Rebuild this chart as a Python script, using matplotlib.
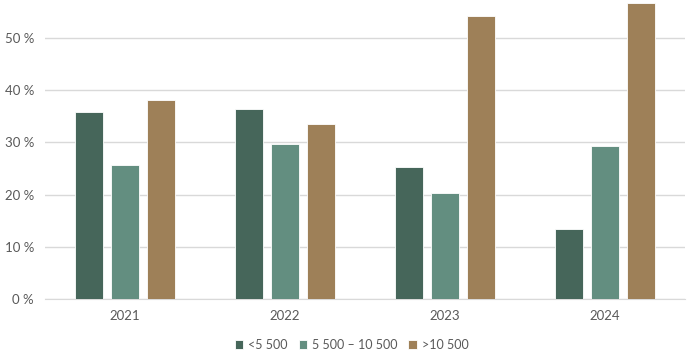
import numpy as np
import matplotlib.pyplot as plt

plt.rcParams['font.family'] = ['Lato', 'DejaVu Sans']

# Data
years = ['2021', '2022', '2023', '2024']
small = [35.8, 36.4, 25.3, 13.4]
medium = [25.7, 29.7, 20.3, 29.3]
large = [38.1, 33.5, 54.2, 56.7]
series_labels = ['<5 500', '5 500 – 10 500', '>10 500']
colors = ['#46665a', '#638e80', '#9e8058']

fig = plt.figure(figsize=(7, 3.5), dpi=100)
ax = fig.add_axes([45 / 700, 51 / 350, 640 / 700, 298 / 350])

x = np.arange(len(years))
width = 0.175
step = 0.225
for i, (vals, lab, col) in enumerate(zip([small, medium, large], series_labels, colors)):
    ax.bar(x + (i - 1) * step, vals, width, color=col, label=lab,
           edgecolor='white', linewidth=0.6, zorder=3)

ax.set_xlim(-0.5, len(years) - 0.5)
ax.set_ylim(0, 298 / 5.22)
ax.set_yticks(np.arange(0, 51, 10))
ax.set_yticklabels([f'{v} %' for v in range(0, 51, 10)])
ax.set_xticks(x)
ax.set_xticklabels(years)

ax.grid(axis='y', color='#d9d9d9', linewidth=1, zorder=0)
for s in ['top', 'right', 'left']:
    ax.spines[s].set_visible(False)
ax.spines['bottom'].set_color('#d9d9d9')
ax.tick_params(axis='both', length=0, colors='#595959', labelsize=9.5)
ax.tick_params(axis='x', pad=8)
ax.tick_params(axis='y', pad=8)

ax.legend(loc='center', bbox_to_anchor=(0.479, -0.153), ncol=3, frameon=False,
          fontsize=9, handlelength=0.7, handleheight=0.7, handletextpad=0.35,
          columnspacing=0.9, labelcolor='#595959',
          bbox_transform=ax.transAxes)

fig.savefig('out.png', dpi=100)
